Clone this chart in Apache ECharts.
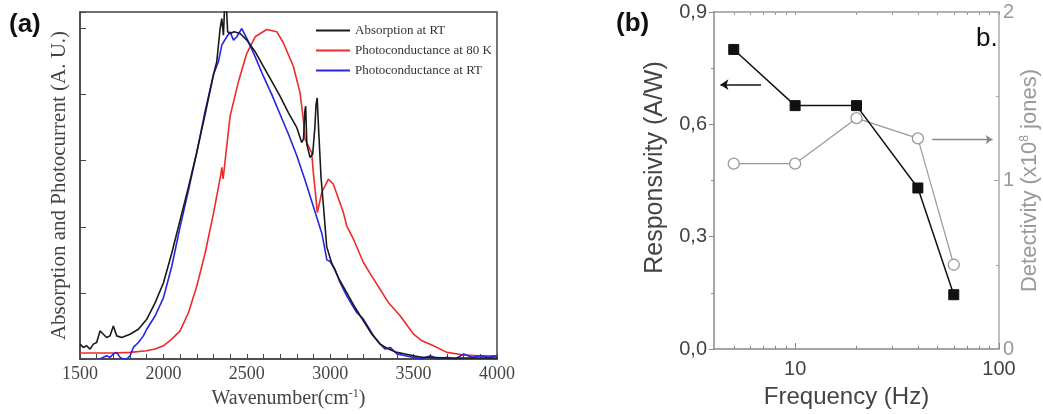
<!DOCTYPE html>
<html>
<head>
<meta charset="utf-8">
<script src="https://cdn.jsdelivr.net/npm/echarts@6/dist/echarts.min.js"></script>
<style>html,body{margin:0;padding:0;background:#fff;}#c{width:1043px;height:414px;}</style>
</head>
<body>
<div id="c"></div>
<script>
// ---- Panel (a): spectra ----
const absX = [1500,1520,1540,1560,1580,1600,1620,1640,1660,1680,1700,1720,1750,1800,1850,1900,1950,2000,2050,2100,2150,2200,2250,2300,2320,2340,2350,2360,2368,2375,2385,2400,2424,2460,2500,2550,2600,2650,2700,2750,2800,2829,2840,2848,2853,2860,2879,2895,2908,2915,2922,2932,2945,2960,2979,3009,3050,3100,3150,3200,3250,3300,3350,3400,3450,3500,3550,3600,3700,3800,3900,4000];
const absY = [0.045,0.035,0.04,0.03,0.045,0.05,0.085,0.075,0.065,0.07,0.1,0.07,0.065,0.075,0.09,0.12,0.17,0.23,0.32,0.42,0.52,0.625,0.74,0.86,0.9,1.0,1.03,0.98,1.08,1.1,0.99,0.985,0.99,0.985,0.965,0.93,0.885,0.84,0.795,0.745,0.70,0.655,0.665,0.75,0.765,0.65,0.61,0.62,0.70,0.77,0.79,0.68,0.55,0.46,0.34,0.29,0.245,0.2,0.155,0.115,0.075,0.045,0.03,0.02,0.015,0.01,0.005,0.005,0.003,0.003,0.003,0.003];

const pc80X = [1500,1600,1700,1800,1900,1950,2000,2050,2100,2150,2200,2250,2300,2330,2345,2350,2358,2370,2400,2450,2500,2550,2619,2680,2719,2779,2819,2839,2849,2869,2889,2899,2923,2949,2989,3019,3079,3099,3139,3199,3250,3299,3350,3419,3500,3550,3619,3700,3800,3900,4000];
const pc80Y = [0.018,0.018,0.018,0.02,0.025,0.03,0.04,0.06,0.085,0.14,0.22,0.32,0.44,0.52,0.56,0.58,0.545,0.6,0.735,0.84,0.925,0.975,0.997,0.99,0.957,0.886,0.806,0.725,0.665,0.645,0.624,0.564,0.443,0.503,0.544,0.529,0.443,0.403,0.363,0.292,0.25,0.211,0.17,0.131,0.075,0.055,0.04,0.02,0.012,0.01,0.01];

const pcRTX = [1620,1660,1680,1700,1720,1740,1760,1780,1800,1820,1850,1880,1900,1950,2000,2050,2100,2150,2200,2250,2300,2330,2350,2380,2400,2420,2440,2470,2500,2550,2600,2650,2700,2750,2800,2850,2900,2950,2980,3000,3030,3060,3100,3130,3160,3200,3230,3260,3300,3330,3360,3400,3450,3500,3550,3600,3650,3700,3750,3800,3850,3900,3950,4000];
const pcRTY = [0.0,0.01,0.005,0.015,0.02,0.005,0.0,0.0,0.01,0.035,0.05,0.07,0.09,0.13,0.185,0.28,0.40,0.51,0.625,0.75,0.86,0.9,0.95,0.975,0.99,0.965,0.975,1.0,0.97,0.915,0.855,0.80,0.74,0.68,0.615,0.54,0.46,0.38,0.30,0.295,0.27,0.23,0.19,0.165,0.14,0.12,0.095,0.07,0.045,0.03,0.035,0.015,0.01,0.005,0.0,0.01,0.0,0.005,0.0,0.015,0.005,0.01,0.005,0.01];

const seriesNamesA = ['Absorption at RT','Photoconductance at 80 K','Photoconductance at RT'];
const xTicksA = [1500,2000,2500,3000,3500,4000];

// ---- Panel (b): responsivity / detectivity ----
const freq = [5,10,20,40,60];
const responsivity = [0.80,0.65,0.65,0.43,0.145];
const detectivity = [1.10,1.10,1.37,1.25,0.50];
const freqLabels = [10,100];
const freqMinor = [5,6,7,8,9,20,30,40,50,60,70,80,90];
const freqAll = [5,6,7,8,9,10,20,30,40,50,60,70,80,90,100];

const zip = (xs, ys) => xs.map((x,i)=>[x, ys[i]]);

const serif = 'Liberation Serif';
const sans = 'Liberation Sans';

const chart = echarts.init(document.getElementById('c'), null, {renderer:'canvas'});
chart.setOption({
  animation: false,
  backgroundColor: '#fff',
  grid: [
    {left: 80, top: 12, width: 417, height: 347, show: true, borderColor: '#444', borderWidth: 1.5},
    {left: 714, top: 12, width: 285, height: 338}
  ],
  legend: {
    data: seriesNamesA,
    orient: 'vertical',
    left: 316, top: 23, padding: 0,
    icon: 'rect',
    itemWidth: 34, itemHeight: 2, itemGap: 5,
    textStyle: {fontFamily: serif, fontSize: 13, color: '#333', lineHeight: 15}
  },
  xAxis: [
    {gridIndex: 0, type: 'value', min: 1500, max: 4000, interval: 100,
     axisLine: {lineStyle: {color: '#444', width: 1.5}},
     axisTick: {inside: true, length: 5, lineStyle: {color: '#444'}},
     splitLine: {show: false},
     axisLabel: {margin: 6, fontFamily: serif, fontSize: 18, color: '#444',
       formatter: v => xTicksA.includes(v) ? String(v) : ''},
     name: 'Wavenumber(cm{sup|-1})', nameLocation: 'middle', nameGap: 26,
     nameTextStyle: {fontFamily: serif, fontSize: 20, color: '#444',
       rich: {sup: {fontFamily: serif, fontSize: 12, color: '#444', verticalAlign: 'top', padding: [0,0,10,0]}}}
    },
    {gridIndex: 1, type: 'log', logBase: 10, min: 4, max: 100,
     axisLine: {lineStyle: {color: '#888', width: 1.5}},
     axisTick: {inside: true, length: 6, customValues: freqLabels, lineStyle: {color: '#888'}},
     splitLine: {show: false},
     axisLabel: {customValues: freqLabels, margin: 10, fontFamily: sans, fontSize: 20, color: '#444'},
     name: 'Frequency (Hz)', nameLocation: 'middle', nameGap: 36,
     nameTextStyle: {fontFamily: sans, fontSize: 24, color: '#444', padding: [0,20,0,0]}
    },
    {gridIndex: 1, type: 'log', logBase: 10, min: 4, max: 100, position: 'bottom',
     axisLine: {show: false},
     axisTick: {inside: true, length: 3, customValues: freqMinor, lineStyle: {color: '#888'}},
     splitLine: {show: false}, axisLabel: {show: false}
    },
    {gridIndex: 1, type: 'log', logBase: 10, min: 4, max: 100, position: 'top',
     axisLine: {lineStyle: {color: '#999', width: 1.5}},
     axisTick: {inside: true, length: 3, customValues: freqAll, lineStyle: {color: '#999'}},
     splitLine: {show: false}, axisLabel: {show: false}
    }
  ],
  yAxis: [
    {gridIndex: 0, type: 'value', min: 0, max: 1.05, interval: 0.2,
     axisLine: {lineStyle: {color: '#444', width: 1.5}},
     axisTick: {inside: true, length: 6, lineStyle: {color: '#444'}},
     splitLine: {show: false}, axisLabel: {show: false},
     name: 'Absorption and Photocurrent (A. U.)', nameLocation: 'middle', nameGap: 10,
     nameTextStyle: {fontFamily: serif, fontSize: 21, color: '#444'}
    },
    {gridIndex: 1, type: 'value', min: 0, max: 0.9, interval: 0.3, position: 'left',
     axisLine: {lineStyle: {color: '#888', width: 1.5}},
     axisTick: {length: 5, lineStyle: {color: '#888'}},
     minorTick: {show: true, splitNumber: 2, length: 3, lineStyle: {color: '#888'}},
     splitLine: {show: false},
     axisLabel: {margin: 7, fontFamily: sans, fontSize: 20, color: '#444',
       formatter: v => v.toFixed(1).replace('.', ',')},
     name: 'Responsivity (A/W)', nameLocation: 'middle', nameGap: 46,
     nameTextStyle: {fontFamily: sans, fontSize: 25, color: '#444', padding: [0,0,0,26]}
    },
    {gridIndex: 1, type: 'value', min: 0, max: 2, interval: 1, position: 'right',
     axisLine: {lineStyle: {color: '#aaa', width: 1.5}},
     axisTick: {inside: true, length: 5, lineStyle: {color: '#aaa'}},
     minorTick: {show: true, splitNumber: 2, length: 3, lineStyle: {color: '#aaa'}},
     splitLine: {show: false},
     axisLabel: {margin: 4, fontFamily: sans, fontSize: 20, color: '#999'},
     name: 'Detectivity (x10{sup|8} jones)', nameLocation: 'middle', nameGap: 20,
     nameTextStyle: {fontFamily: sans, fontSize: 22, color: '#999',
       rich: {sup: {fontFamily: sans, fontSize: 12, color: '#999', verticalAlign: 'top'}}}
    }
  ],
  series: [
    {name: seriesNamesA[0], type: 'line', xAxisIndex: 0, yAxisIndex: 0, data: zip(absX, absY),
     symbol: 'none', lineStyle: {color: '#1a1a1a', width: 1.6}, itemStyle: {color: '#1a1a1a'}, z: 3},
    {name: seriesNamesA[1], type: 'line', xAxisIndex: 0, yAxisIndex: 0, data: zip(pc80X, pc80Y),
     symbol: 'none', lineStyle: {color: '#ee2a2a', width: 1.6}, itemStyle: {color: '#ee2a2a'}, z: 2},
    {name: seriesNamesA[2], type: 'line', xAxisIndex: 0, yAxisIndex: 0, data: zip(pcRTX, pcRTY),
     symbol: 'none', lineStyle: {color: '#2525e6', width: 1.6}, itemStyle: {color: '#2525e6'}, z: 2},
    {name: 'Responsivity', type: 'line', xAxisIndex: 1, yAxisIndex: 1, data: zip(freq, responsivity),
     symbol: 'rect', symbolSize: 10, lineStyle: {color: '#111', width: 1.5},
     itemStyle: {color: '#111', borderColor: '#111'}, z: 4,
     markLine: {silent: true, symbol: ['none','arrow'], symbolSize: 8, label: {show: false},
       lineStyle: {color: '#111', width: 1.5, type: 'solid'},
       data: [[{coord: [6.8, 0.706]}, {coord: [4.3, 0.706]}]]}
    },
    {name: 'Detectivity', type: 'line', xAxisIndex: 1, yAxisIndex: 2, data: zip(freq, detectivity),
     symbol: 'circle', symbolSize: 11, lineStyle: {color: '#999', width: 1.2},
     itemStyle: {color: '#fff', borderColor: '#999', borderWidth: 1.3}, z: 3,
     markLine: {silent: true, symbol: ['none','arrow'], symbolSize: 7, label: {show: false},
       lineStyle: {color: '#888', width: 1.3, type: 'solid'},
       data: [[{coord: [47, 1.243]}, {coord: [93, 1.243]}]]}
    }
  ],
  graphic: [
    {type: 'text', left: 9, top: 12, style: {text: '(a)', fontFamily: sans, fontWeight: 'bold', fontSize: 26, fill: '#111'}},
    {type: 'text', left: 616, top: 11, style: {text: '(b)', fontFamily: sans, fontWeight: 'bold', fontSize: 26, fill: '#111'}},
    {type: 'text', left: 976, top: 26, style: {text: 'b.', fontFamily: sans, fontSize: 26, fill: '#111'}}
  ]
});
</script>
</body>
</html>
